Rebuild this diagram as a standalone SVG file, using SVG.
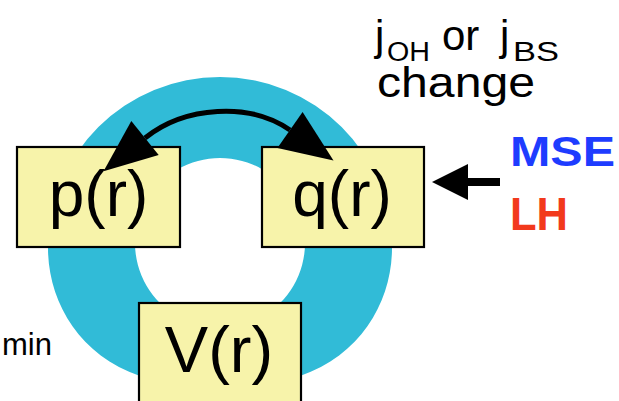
<svg xmlns="http://www.w3.org/2000/svg" width="619" height="401" viewBox="0 0 619 401">
<style>
.box{fill:#f7f3aa;stroke:#000;stroke-width:2.2}
.lbl{font-family:"Liberation Sans",Arial,sans-serif;fill:#000}
.big{font-size:64px;text-anchor:middle}
</style>
<defs>
<marker id="head" markerUnits="userSpaceOnUse" markerWidth="60" markerHeight="60" viewBox="-2 -24 52 48" refX="0" refY="0" orient="auto-start-reverse">
<path d="M0,-19 L46,0 L0,19 z" fill="#000"/>
</marker>
</defs>
<rect width="619" height="401" fill="#fff"/>
<g id="ring">
<path fill="#31bbd7" fill-rule="evenodd" d="M220,77 A172,171 0 0 1 392,248 C392,300 362,355 300,376 L140,376 C78,355 48,300 48,248 A172,171 0 0 1 220,77 Z M220,158 A85,85 0 1 0 220.01,158 Z"/>
</g>
<g id="p">
<rect class="box" x="17" y="147" width="163" height="100"/>
<text class="lbl big" x="98.5" y="216">p(r)</text>
</g>
<g id="q">
<rect class="box" x="262" y="147" width="162" height="100"/>
<text class="lbl big" x="342" y="216">q(r)</text>
</g>
<g id="V">
<rect class="box" x="139" y="303" width="162" height="110"/>
<text class="lbl" x="219" y="372" font-size="65" text-anchor="middle">V(r)</text>
</g>
<g id="connectors">
<path d="M145,138 C185,106 250,102 290,130" fill="none" stroke="#000" stroke-width="5" marker-start="url(#head)" marker-end="url(#head)"/>
<path d="M500,182 L466,182" stroke="#000" stroke-width="8"/>
<polygon points="432,182 468,164 468,200" fill="#000"/>
</g>
<g id="change">
<text class="lbl" font-size="42"><tspan x="375" y="50">j</tspan><tspan x="387" y="61" font-size="27" textLength="43" lengthAdjust="spacingAndGlyphs">OH</tspan><tspan x="442" y="50">or</tspan><tspan x="500" y="50">j</tspan><tspan x="513" y="61" font-size="27" textLength="46" lengthAdjust="spacingAndGlyphs">BS</tspan></text>
<text class="lbl" x="377" y="97" font-size="43" textLength="158" lengthAdjust="spacingAndGlyphs">change</text>
</g>
<g id="mse">
<text x="510" y="166" font-family="Liberation Sans,Arial,sans-serif" font-weight="bold" font-size="43" fill="#1e3cff" textLength="105" lengthAdjust="spacingAndGlyphs">MSE</text>
<text x="510" y="230" font-family="Liberation Sans,Arial,sans-serif" font-weight="bold" font-size="47" fill="#f2391c" textLength="58" lengthAdjust="spacingAndGlyphs">LH</text>
</g>
<g id="min">
<text class="lbl" x="2" y="355" font-size="31">min</text>
</g>
</svg>
